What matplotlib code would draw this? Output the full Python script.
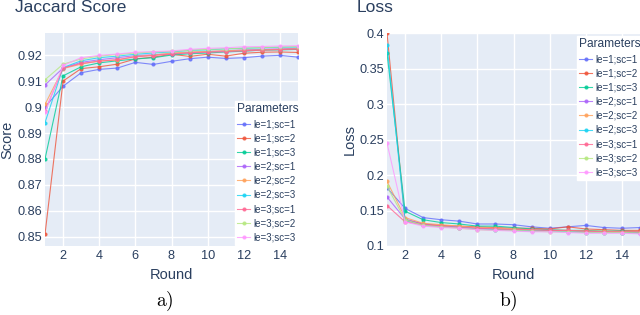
#!/usr/bin/env python3

import matplotlib

matplotlib.use("Agg")

import numpy as np
from matplotlib import pyplot as plt
from matplotlib.ticker import FuncFormatter

# ------------------------------------------------------
# Data

rounds = np.arange(1, 16)

labels = [
    "le=1;sc=1",
    "le=1;sc=2",
    "le=1;sc=3",
    "le=2;sc=1",
    "le=2;sc=2",
    "le=2;sc=3",
    "le=3;sc=1",
    "le=3;sc=2",
    "le=3;sc=3",
]

# plotly default palette
colors = [
    "#636EFA",
    "#EF553B",
    "#00CC96",
    "#AB63FA",
    "#FFA15A",
    "#19D3F3",
    "#FF6692",
    "#B6E880",
    "#FF97FF",
]

jaccard_le1_sc1 = [0.900, 0.908, 0.9132, 0.9145, 0.915, 0.9172, 0.9164, 0.9176, 0.9186, 0.9192, 0.9187, 0.919, 0.9196, 0.9199, 0.9192]
jaccard_le1_sc2 = [0.851, 0.910, 0.9148, 0.9155, 0.9165, 0.9185, 0.9192, 0.9203, 0.9195, 0.9203, 0.9196, 0.9207, 0.9211, 0.9212, 0.9210]
jaccard_le1_sc3 = [0.880, 0.912, 0.9155, 0.9170, 0.9178, 0.9185, 0.9190, 0.9200, 0.9205, 0.9208, 0.9212, 0.9215, 0.9219, 0.9220, 0.9222]
jaccard_le2_sc1 = [0.9085, 0.9150, 0.9172, 0.9182, 0.9190, 0.9198, 0.9201, 0.9205, 0.9210, 0.9213, 0.9216, 0.9220, 0.9222, 0.9224, 0.9226]
jaccard_le2_sc2 = [0.901, 0.9148, 0.9165, 0.9178, 0.9180, 0.9195, 0.9200, 0.9208, 0.9212, 0.9214, 0.9217, 0.9219, 0.9220, 0.9222, 0.9225]
jaccard_le2_sc3 = [0.894, 0.9152, 0.9178, 0.9190, 0.9196, 0.9203, 0.9208, 0.9212, 0.9218, 0.9220, 0.9224, 0.9226, 0.9228, 0.9230, 0.9231]
jaccard_le3_sc1 = [0.8985, 0.9150, 0.9168, 0.9176, 0.9183, 0.9193, 0.9198, 0.9204, 0.9208, 0.9211, 0.9213, 0.9216, 0.9219, 0.9221, 0.9223]
jaccard_le3_sc2 = [0.9105, 0.9165, 0.9185, 0.9196, 0.9202, 0.9208, 0.9212, 0.9214, 0.9219, 0.9222, 0.9224, 0.9227, 0.9229, 0.9231, 0.9233]
jaccard_le3_sc3 = [0.898, 0.9160, 0.9190, 0.9199, 0.9204, 0.9211, 0.9213, 0.9216, 0.9222, 0.9226, 0.9228, 0.9232, 0.9233, 0.9235, 0.9236]

loss_le1_sc1 = [0.182, 0.153, 0.140, 0.137, 0.135, 0.131, 0.131, 0.130, 0.127, 0.125, 0.127, 0.129, 0.126, 0.125, 0.126]
loss_le1_sc2 = [0.400, 0.137, 0.131, 0.129, 0.128, 0.127, 0.126, 0.125, 0.125, 0.124, 0.127, 0.124, 0.123, 0.122, 0.122]
loss_le1_sc3 = [0.372, 0.149, 0.137, 0.133, 0.131, 0.128, 0.128, 0.126, 0.124, 0.123, 0.122, 0.122, 0.121, 0.121, 0.120]
loss_le2_sc1 = [0.169, 0.138, 0.131, 0.128, 0.127, 0.125, 0.124, 0.123, 0.122, 0.122, 0.121, 0.120, 0.120, 0.119, 0.119]
loss_le2_sc2 = [0.191, 0.140, 0.132, 0.130, 0.128, 0.126, 0.125, 0.124, 0.123, 0.122, 0.122, 0.121, 0.121, 0.120, 0.120]
loss_le2_sc3 = [0.383, 0.136, 0.129, 0.127, 0.126, 0.124, 0.123, 0.122, 0.121, 0.121, 0.120, 0.119, 0.119, 0.119, 0.118]
loss_le3_sc1 = [0.157, 0.134, 0.130, 0.128, 0.126, 0.125, 0.124, 0.123, 0.123, 0.122, 0.122, 0.121, 0.120, 0.120, 0.120]
loss_le3_sc2 = [0.184, 0.137, 0.129, 0.127, 0.125, 0.123, 0.122, 0.122, 0.121, 0.120, 0.120, 0.119, 0.119, 0.119, 0.118]
loss_le3_sc3 = [0.245, 0.134, 0.128, 0.126, 0.125, 0.123, 0.122, 0.121, 0.120, 0.120, 0.119, 0.118, 0.118, 0.118, 0.117]

jaccard = [
    jaccard_le1_sc1, jaccard_le1_sc2, jaccard_le1_sc3,
    jaccard_le2_sc1, jaccard_le2_sc2, jaccard_le2_sc3,
    jaccard_le3_sc1, jaccard_le3_sc2, jaccard_le3_sc3,
]
loss = [
    loss_le1_sc1, loss_le1_sc2, loss_le1_sc3,
    loss_le2_sc1, loss_le2_sc2, loss_le2_sc3,
    loss_le3_sc1, loss_le3_sc2, loss_le3_sc3,
]

jaccard_ticks = [0.85, 0.86, 0.87, 0.88, 0.89, 0.90, 0.91, 0.92]
loss_ticks = [0.1, 0.15, 0.2, 0.25, 0.3, 0.35, 0.4]
round_ticks = [2, 4, 6, 8, 10, 12, 14]

# ------------------------------------------------------
# Plot parameters (plotly-like look)

text_color = "#2a3f5f"
params = {
    "font.family": ["Liberation Sans", "DejaVu Sans"],
    "font.size": 9,
    "axes.facecolor": "#E5ECF6",
    "axes.edgecolor": "none",
    "axes.labelcolor": text_color,
    "xtick.color": text_color,
    "ytick.color": text_color,
    "xtick.labelsize": 9.2,
    "ytick.labelsize": 9.2,
    "xtick.major.size": 0,
    "ytick.major.size": 0,
    "mathtext.fontset": "cm",
}
matplotlib.rcParams.update(params)

fig = plt.figure(figsize=(6.4, 3.15), dpi=100)
ax1 = fig.add_axes([45 / 640, 69 / 315, 253 / 640, 213 / 315])
ax2 = fig.add_axes([387 / 640, 69 / 315, 253 / 640, 213 / 315])


def fmt(v, pos):
    return "%g" % round(v, 4)


def plot_panel(ax, series, ylim, yticks, ylabel):
    for values, color, label in zip(series, colors, labels):
        ax.plot(
            rounds,
            values,
            color=color,
            linewidth=0.8,
            marker="o",
            markersize=2.0,
            alpha=0.8,
            label=label,
        )
    ax.set_xlim(1, 15)
    ax.set_ylim(*ylim)
    ax.set_xticks(round_ticks)
    ax.set_yticks(yticks)
    ax.yaxis.set_major_formatter(FuncFormatter(fmt))
    ax.grid(color="white", linewidth=1.0)
    ax.set_axisbelow(True)
    ax.tick_params(axis="x", pad=3)
    ax.tick_params(axis="y", pad=2)
    ax.set_xlabel("Round", fontsize=10.5, labelpad=4)
    ax.set_ylabel(ylabel, fontsize=10.5, labelpad=2)
    for spine in ax.spines.values():
        spine.set_visible(False)


plot_panel(ax1, jaccard, (0.8465, 0.9285), jaccard_ticks, "Score")
plot_panel(ax2, loss, (0.1, 0.4), loss_ticks, "Loss")

legkw = dict(
    title="Parameters",
    loc="upper left",
    frameon=True,
    fancybox=False,
    facecolor="white",
    edgecolor="white",
    framealpha=1.0,
    fontsize=7.0,
    title_fontsize=8.6,
    handlelength=1.3,
    handletextpad=0.3,
    labelspacing=0.42,
    borderpad=0.25,
    borderaxespad=0,
    alignment="left",
    labelcolor=text_color,
)
leg1 = ax1.legend(bbox_to_anchor=(235 / 640, 1 - 101 / 315),
                  bbox_transform=fig.transFigure, **legkw)
leg2 = ax2.legend(bbox_to_anchor=(577 / 640, 1 - 36 / 315),
                  bbox_transform=fig.transFigure, **legkw)
for leg in (leg1, leg2):
    leg.get_title().set_color(text_color)

fig.text(15 / 640, 1 - 8 / 315, "Jaccard Score", fontsize=12.5, color=text_color,
         ha="left", va="center")
fig.text(357 / 640, 1 - 7 / 315, "Loss", fontsize=12.5, color=text_color,
         ha="left", va="center")

fig.text(165 / 640, 1 - 301 / 315, r"$\mathrm{a)}$", fontsize=14, color="black",
         ha="center", va="center")
fig.text(508 / 640, 1 - 301 / 315, r"$\mathrm{b)}$", fontsize=14, color="black",
         ha="center", va="center")

plt.savefig("out.png", dpi=100)
print("saved out.png")
